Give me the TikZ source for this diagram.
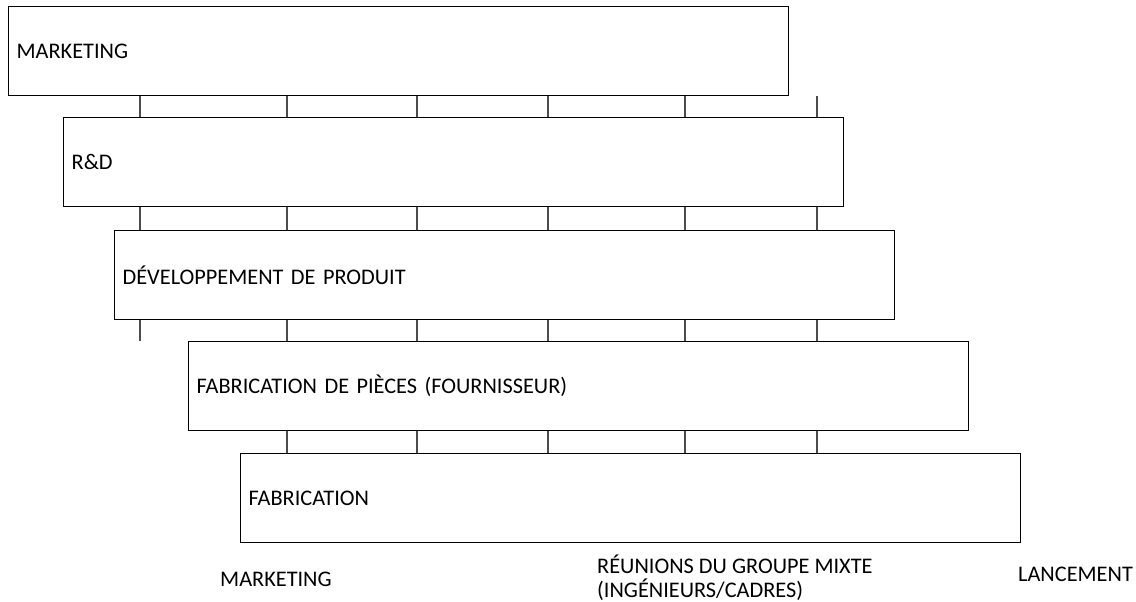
\documentclass[tikz,border=0pt]{standalone}
\usepackage{fontspec}
\setmainfont{Carlito}
\begin{document}
\begin{tikzpicture}[x=1pt,y=-1pt,
  phase/.style={draw=black, line width=1.3pt, rectangle, anchor=north west,
    minimum width=780pt, minimum height=89pt, text width=764pt,
    inner xsep=8pt, inner ysep=0pt, align=left,
    font=\fontsize{22.3}{26}\selectfont},
  link/.style={draw=black!70, line width=1.3pt},
  caption/.style={anchor=west, align=left, inner sep=0pt,
    font=\fontsize{22.3}{24.5}\selectfont}]
\useasboundingbox (0,0) rectangle (1136,602);

% staggered phases
\node[phase] (b1) at (8,6)    {MARKETING};
\node[phase] (b2) at (63,117) {R\&D};
\node[phase] (b3) at (114,230) {DÉVELOPPEMENT DE PRODUIT};
\node[phase] (b4) at (188,341) {FABRICATION DE PIÈCES (FOURNISSEUR)};
\node[phase] (b5) at (240,453) {FABRICATION};

% columns of the joint meetings
\coordinate (c1) at (140,0);
\coordinate (c2) at (287,0);
\coordinate (c3) at (417,0);
\coordinate (c4) at (548,0);
\coordinate (c5) at (685,0);
\coordinate (c6) at (817,0);

% links between successive phases
\foreach \c in {c1,c2,c3,c4,c5,c6}{
  \draw[link] (b1.south -| \c) -- (b2.north -| \c);
  \draw[link] (b2.south -| \c) -- (b3.north -| \c);
  \draw[link] (b3.south -| \c) -- (b4.north -| \c);
}
\foreach \c in {c2,c3,c4,c5,c6}{
  \draw[link] (b4.south -| \c) -- (b5.north -| \c);
}

% captions
\node[caption] (m) at (220,579) {MARKETING};
\node[caption] (r) at (597,577.5) {RÉUNIONS DU GROUPE MIXTE\\(INGÉNIEURS/CADRES)};
\node[caption] (l) at (1018,574) {LANCEMENT};
\end{tikzpicture}
\end{document}
